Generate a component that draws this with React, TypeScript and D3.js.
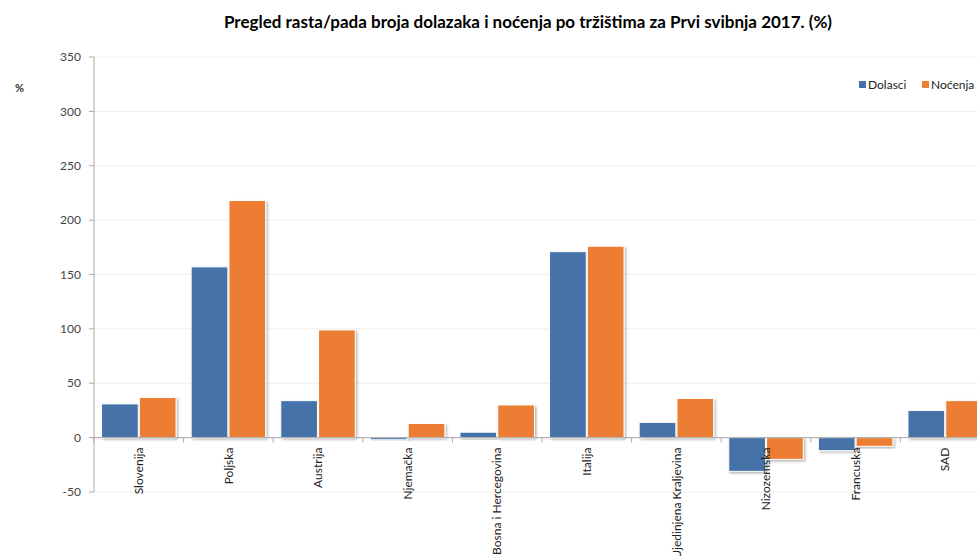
import * as d3 from "d3";

const categories = [
  "Slovenija",
  "Poljska",
  "Austrija",
  "Njemačka",
  "Bosna i Hercegovina",
  "Italija",
  "Ujedinjena Kraljevina",
  "Nizozemska",
  "Francuska",
  "SAD",
];
const dolasci = [31, 157, 34, -2, 5, 171, 14, -31, -12, 25];
const nocenja = [37, 218, 99, 13, 30, 176, 36, -20, -8, 34];
const seriesNames = ["Dolasci", "Noćenja"];
const colors = ["#4472a8", "#ed7d31"];
const yTicks = [-50, 0, 50, 100, 150, 200, 250, 300, 350];

const W = 977;
const H = 556;
const FONT = "Lato, 'Open Sans', sans-serif";

export default function App() {
  const marginLeft = 94;
  const plotRight = 990;
  const yTop = 57;
  const yBottom = 492;

  const x = d3.scaleBand<string>().domain(categories).range([marginLeft, plotRight]);
  const y = d3.scaleLinear().domain([-50, 350]).range([yBottom, yTop]);
  const inner = d3
    .scaleBand<string>()
    .domain(seriesNames)
    .range([0, x.bandwidth()])
    .paddingOuter(0.2)
    .paddingInner(0.03);

  const values = [dolasci, nocenja];

  return (
    <svg
      width={W}
      height={H}
      style={{ position: "absolute", left: 0, top: 0, background: "#fff" }}
      fontFamily={FONT}
    >
      <defs>
        <filter id="sh" x="-20%" y="-20%" width="150%" height="150%">
          <feDropShadow dx="1.5" dy="1.5" stdDeviation="1.2" floodColor="#000" floodOpacity="0.3" />
        </filter>
      </defs>
      <text x={528} y={28} textAnchor="middle" fontSize={17} fontWeight="bold" fill="#000">
        Pregled rasta/pada broja dolazaka i noćenja po tržištima za Prvi svibnja 2017. (%)
      </text>
      <text x={15} y={92} fontSize={11} fontWeight="bold" fill="#333">
        %
      </text>

      {yTicks.map((t) => (
        <g key={t}>
          <line x1={marginLeft} x2={plotRight} y1={y(t)} y2={y(t)} stroke="#eeeeee" />
          <line x1={marginLeft - 5} x2={marginLeft} y1={y(t)} y2={y(t)} stroke="#aaa" />
          <text x={marginLeft - 13} y={y(t)} dy="0.35em" textAnchor="end" fontSize={12} fill="#444">
            {t}
          </text>
        </g>
      ))}
      <line x1={marginLeft} x2={marginLeft} y1={yTop} y2={yBottom} stroke="#aaa" />

      {categories.map((c, i) => (
        <g key={c} transform={`translate(${x(c)},0)`}>
          {seriesNames.map((s, k) => {
            const v = values[k][i];
            return (
              <rect
                key={s}
                x={inner(s)}
                y={Math.min(y(v), y(0))}
                width={inner.bandwidth()}
                height={Math.abs(y(v) - y(0))}
                fill={colors[k]}
                stroke="#fff"
                strokeWidth={1}
                filter="url(#sh)"
              />
            );
          })}
        </g>
      ))}

      <line x1={marginLeft} x2={plotRight} y1={y(0)} y2={y(0)} stroke="#aaa" />
      {categories.map((c) => (
        <line key={c} x1={x(c)} x2={x(c)} y1={y(0)} y2={y(0) + 5} stroke="#aaa" />
      ))}

      {categories.map((c) => (
        <text
          key={c}
          transform={`translate(${(x(c) ?? 0) + x.bandwidth() / 2},${y(0) + 10}) rotate(-90)`}
          dy="0.35em"
          textAnchor="end"
          fontSize={12}
          fill="#222"
        >
          {c}
        </text>
      ))}

      {seriesNames.map((s, k) => {
        const lx = k === 0 ? 859 : 922;
        return (
          <g key={s}>
            <rect x={lx} y={81} width={7} height={7} fill={colors[k]} />
            <text x={lx + 9} y={85} dy="0.35em" fontSize={12} fill="#222">
              {s}
            </text>
          </g>
        );
      })}
    </svg>
  );
}
